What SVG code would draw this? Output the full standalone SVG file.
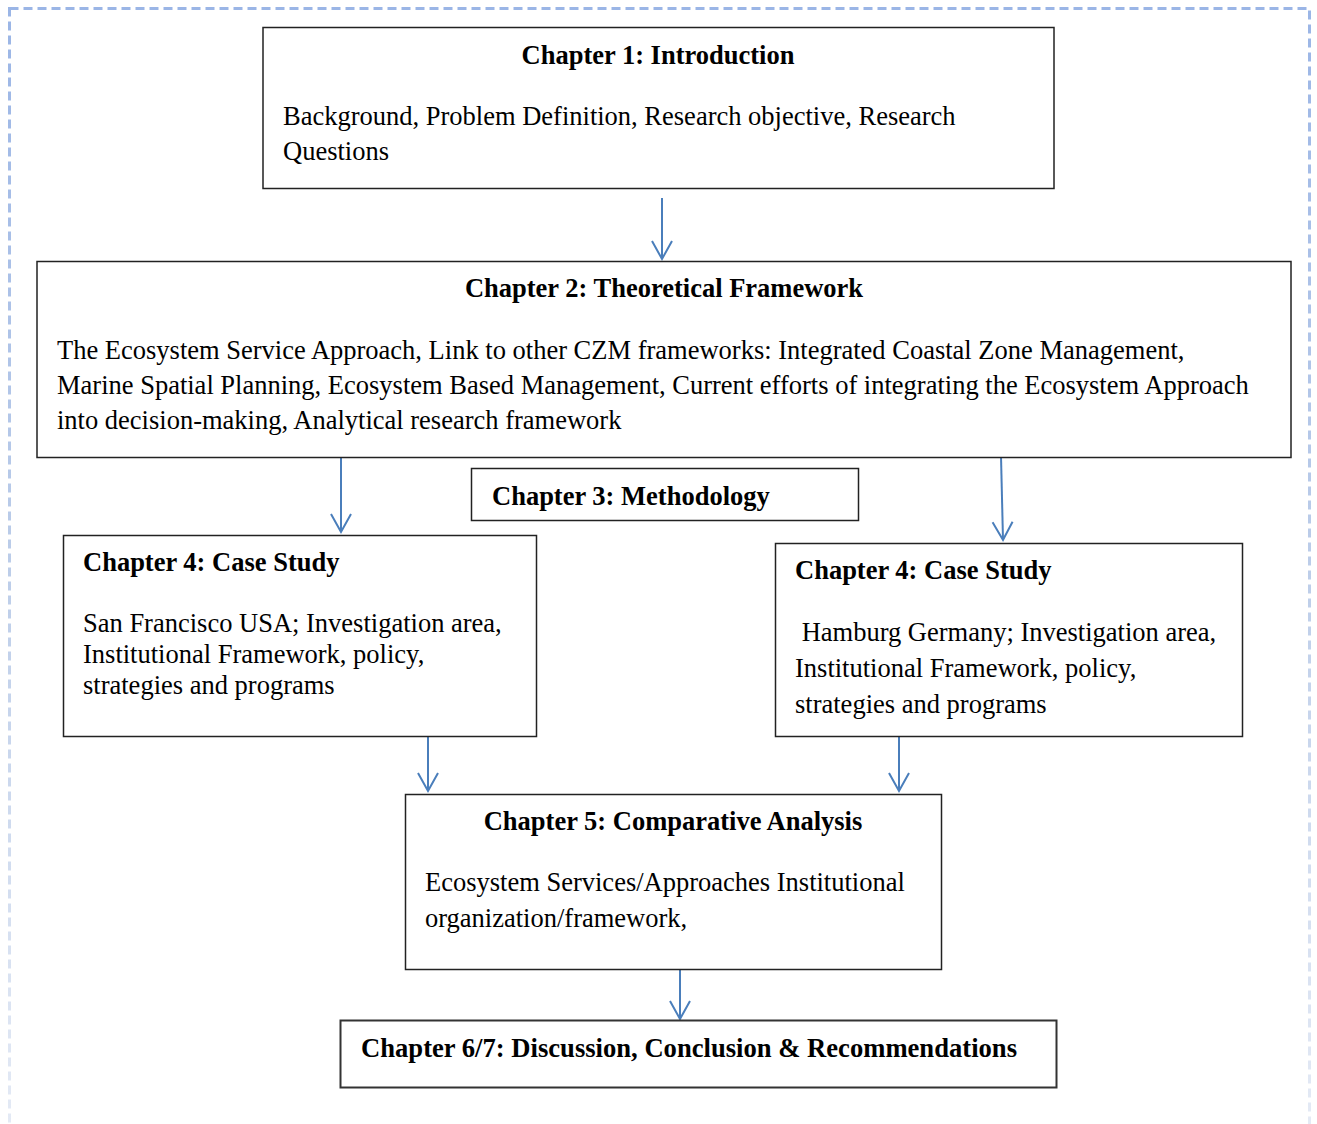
<svg xmlns="http://www.w3.org/2000/svg" width="1317" height="1124" viewBox="0 0 1317 1124">
<defs>
<linearGradient id="fade" gradientUnits="userSpaceOnUse" x1="0" y1="0" x2="0" y2="1124">
<stop offset="0" stop-color="#9ab5e6"/>
<stop offset="0.5" stop-color="#bccde9"/>
<stop offset="1" stop-color="#e4eaf5"/>
</linearGradient>
<marker id="arr" markerUnits="userSpaceOnUse" markerWidth="30" markerHeight="30" refX="21" refY="15" orient="auto" viewBox="0 0 30 30">
<path d="M3,5 L21,15 L3,25" fill="none" stroke="#4a7ebb" stroke-width="2"/>
</marker>
</defs>
<style>
.box{fill:#fff;stroke:#222;stroke-width:1.5}
.t{font-family:"Liberation Serif","Times New Roman",serif;font-size:26.5px;fill:#000}
.b{font-weight:bold}
.c{stroke:#4a7ebb;stroke-width:2;fill:none}
</style>
<rect x="0" y="0" width="1317" height="1124" fill="#fff"/>
<rect x="9.5" y="8.5" width="1300" height="1140" fill="none" stroke="url(#fade)" stroke-width="3" stroke-dasharray="9,5"/>
<g id="connectors">
<line class="c" x1="662" y1="198" x2="662" y2="259" marker-end="url(#arr)"/>
<line class="c" x1="341" y1="458" x2="341" y2="532" marker-end="url(#arr)"/>
<line class="c" x1="1001" y1="456" x2="1003" y2="540" marker-end="url(#arr)"/>
<line class="c" x1="428" y1="737" x2="428" y2="791" marker-end="url(#arr)"/>
<line class="c" x1="899" y1="737" x2="899" y2="791" marker-end="url(#arr)"/>
<line class="c" x1="680" y1="969" x2="680" y2="1019" marker-end="url(#arr)"/>
</g>
<g id="ch1">
<rect class="box" x="263" y="27.5" width="791" height="161"/>
<text class="t b" x="658" y="64" text-anchor="middle">Chapter 1: Introduction</text>
<text class="t" x="283" y="125">Background, Problem Definition, Research objective, Research</text>
<text class="t" x="283" y="160">Questions</text>
</g>
<g id="ch2">
<rect class="box" x="37" y="261.5" width="1254" height="196"/>
<text class="t b" x="664" y="297" text-anchor="middle">Chapter 2: Theoretical Framework</text>
<text class="t" x="57" y="359">The Ecosystem Service Approach, Link to other CZM frameworks: Integrated Coastal Zone Management,</text>
<text class="t" x="57" y="394">Marine Spatial Planning, Ecosystem Based Management, Current efforts of integrating the Ecosystem Approach</text>
<text class="t" x="57" y="429">into decision-making, Analytical research framework</text>
</g>
<g id="ch3">
<rect class="box" x="471.5" y="468.5" width="387" height="52"/>
<text class="t b" x="492" y="505">Chapter 3: Methodology</text>
</g>
<g id="ch4a">
<rect class="box" x="63.5" y="535.5" width="473" height="201"/>
<text class="t b" x="83" y="571">Chapter 4: Case Study</text>
<text class="t" x="83" y="632">San Francisco USA; Investigation area,</text>
<text class="t" x="83" y="663">Institutional Framework, policy,</text>
<text class="t" x="83" y="694">strategies and programs</text>
</g>
<g id="ch4b">
<rect class="box" x="775.5" y="543.5" width="467" height="193"/>
<text class="t b" x="795" y="579">Chapter 4: Case Study</text>
<text class="t" x="795" y="641" xml:space="preserve"> Hamburg Germany; Investigation area,</text>
<text class="t" x="795" y="677">Institutional Framework, policy,</text>
<text class="t" x="795" y="713">strategies and programs</text>
</g>
<g id="ch5">
<rect class="box" x="405.5" y="794.5" width="536" height="175"/>
<text class="t b" x="673" y="830" text-anchor="middle">Chapter 5: Comparative Analysis</text>
<text class="t" x="425" y="891">Ecosystem Services/Approaches Institutional</text>
<text class="t" x="425" y="927">organization/framework,</text>
</g>
<g id="ch6">
<rect class="box" x="340.5" y="1020.5" width="716" height="67" style="stroke:#333;stroke-width:2"/>
<text class="t b" x="361" y="1057" textLength="656" lengthAdjust="spacingAndGlyphs">Chapter 6/7: Discussion, Conclusion &amp; Recommendations</text>
</g>
</svg>
